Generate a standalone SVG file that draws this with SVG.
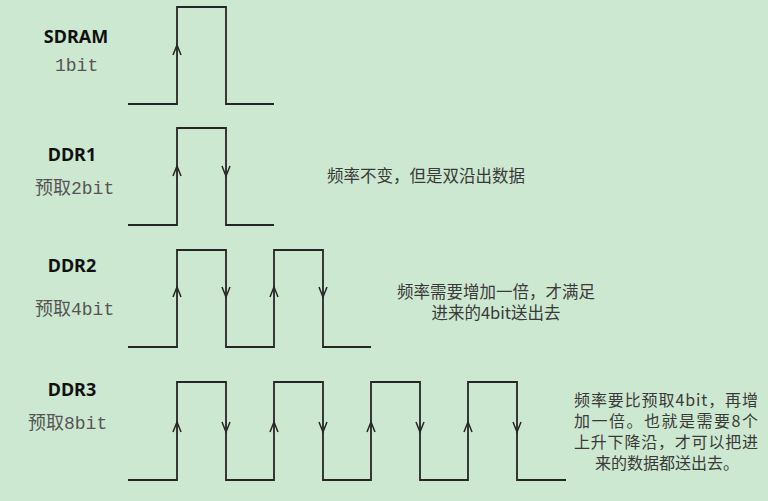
<svg xmlns="http://www.w3.org/2000/svg" width="768" height="501" viewBox="0 0 768 501">
<style>
.wave{fill:none;stroke:#262626;stroke-width:1.8;stroke-linejoin:miter}
.arr{fill:none;stroke:#262626;stroke-width:1.5}
.title{font-family:"Noto Sans","Open Sans",sans-serif;font-weight:bold;font-size:18px;fill:#111;text-anchor:middle}
.lbl{font-family:"Liberation Mono","Noto Sans CJK SC",monospace;font-size:18px;fill:#555}
.note{font-family:"Noto Sans CJK SC",sans-serif;font-size:16.5px;fill:#3a3a3a;text-anchor:middle}
.note2{font-family:"Noto Sans CJK SC",sans-serif;font-size:16px;fill:#3a3a3a;text-anchor:middle}
</style>
<rect x="0" y="0" width="768" height="501" fill="#cde8d0"/>

<g id="sdram">
<text class="title" x="76" y="43">SDRAM</text>
<text class="lbl" x="55" y="71">1bit</text>
<polyline class="wave" points="128,104 177,104 177,7 226,7 226,104 274,104"/>
<polyline class="arr" points="173,55 177,45 181,55"/>
</g>

<g id="ddr1">
<text class="title" x="72" y="161">DDR1</text>
<text class="lbl" x="35" y="194">预取2bit</text>
<polyline class="wave" points="128,225 177,225 177,128 226,128 226,225 274,225"/>
<polyline class="arr" points="173,176 177,166 181,176"/>
<polyline class="arr" points="222,166 226,176 230,166"/>
</g>

<g id="ddr2">
<text class="title" x="72" y="272">DDR2</text>
<text class="lbl" x="35" y="315">预取4bit</text>
<polyline class="wave" points="128,347 177,347 177,250 226,250 226,347 274,347 274,250 323,250 323,347 371,347"/>
<polyline class="arr" points="173,297 177,287 181,297"/>
<polyline class="arr" points="222,287 226,297 230,287"/>
<polyline class="arr" points="270,297 274,287 278,297"/>
<polyline class="arr" points="319,287 323,297 327,287"/>
</g>

<g id="ddr3">
<text class="title" x="72" y="396">DDR3</text>
<text class="lbl" x="28" y="429">预取8bit</text>
<polyline class="wave" points="128,480 177,480 177,382 226,382 226,480 274,480 274,382 323,382 323,480 371,480 371,382 420,382 420,480 468,480 468,382 517,382 517,480 566,480"/>
<polyline class="arr" points="173,432 177,422 181,432"/>
<polyline class="arr" points="222,422 226,432 230,422"/>
<polyline class="arr" points="270,432 274,422 278,432"/>
<polyline class="arr" points="319,422 323,432 327,422"/>
<polyline class="arr" points="367,432 371,422 375,432"/>
<polyline class="arr" points="416,422 420,432 424,422"/>
<polyline class="arr" points="464,432 468,422 472,432"/>
<polyline class="arr" points="513,422 517,432 521,422"/>
</g>

<g id="notes">
<text class="note" x="426" y="182">频率不变，但是双沿出数据</text>
<text class="note" x="496" y="298">频率需要增加一倍，才满足</text>
<text class="note" x="496" y="319">进来的4bit送出去</text>
<text class="note2" x="666" y="406" textLength="184">频率要比预取4bit，再增</text>
<text class="note2" x="666" y="427" textLength="184">加一倍。也就是需要8个</text>
<text class="note2" x="666" y="448" textLength="184">上升下降沿，才可以把进</text>
<text class="note2" x="667" y="469">来的数据都送出去。</text>
</g>
</svg>
